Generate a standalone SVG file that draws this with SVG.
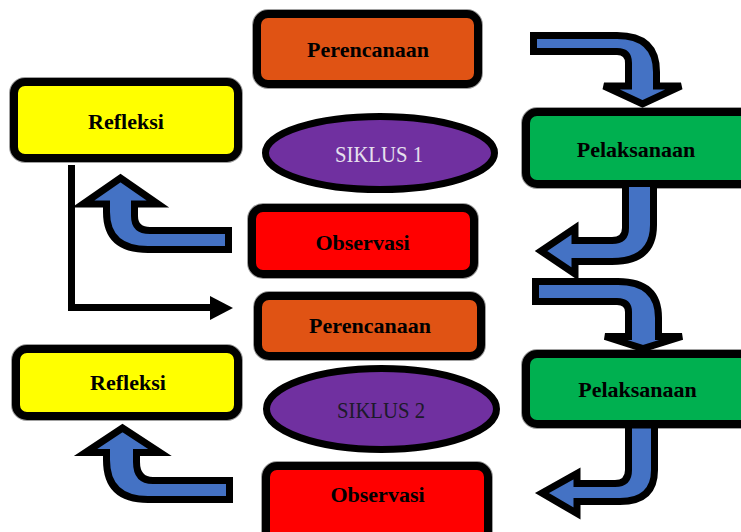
<svg xmlns="http://www.w3.org/2000/svg" width="741" height="532" viewBox="0 0 741 532">
<style>
.halo{fill:none;stroke:#a0a0a0;stroke-width:10}
.box{stroke:#000;stroke-width:8}
.ell{fill:#7030A0;stroke:#000;stroke-width:7}
.lbl{font-family:"Liberation Serif",serif;font-weight:bold;font-size:22px;fill:#000;text-anchor:middle}
.sik{font-family:"Liberation Serif",serif;font-size:23px;text-anchor:middle}
.arr{fill:#4472C4;stroke:#000;stroke-width:7;stroke-linejoin:miter}
.ln{fill:none;stroke:#000;stroke-width:7}
</style>
<rect width="741" height="532" fill="#fff"/>
<g id="perencanaan1">
<rect class="halo" x="257" y="14" width="221" height="70" rx="11"/>
<rect class="box" fill="#E05314" x="257" y="14" width="221" height="70" rx="11"/>
<text class="lbl" x="368" y="57">Perencanaan</text>
</g>
<g id="pelaksanaan1">
<rect class="halo" x="526" y="112" width="230" height="72" rx="11"/>
<rect class="box" fill="#00B050" x="526" y="112" width="230" height="72" rx="11"/>
<text class="lbl" x="636" y="157">Pelaksanaan</text>
</g>
<g id="refleksi1">
<rect class="halo" x="14" y="82" width="224" height="76" rx="11"/>
<rect class="box" fill="#FFFF00" x="14" y="82" width="224" height="76" rx="11"/>
<text class="lbl" x="126" y="129">Refleksi</text>
</g>
<g id="siklus1">
<ellipse class="ell" cx="380" cy="153" rx="114.5" ry="36.5"/>
<text class="sik" x="379" y="162" fill="#E6E0EE" textLength="88" lengthAdjust="spacingAndGlyphs">SIKLUS 1</text>
</g>
<g id="observasi1">
<rect class="halo" x="252" y="208" width="222" height="66" rx="11"/>
<rect class="box" fill="#FF0000" x="252" y="208" width="222" height="66" rx="11"/>
<text class="lbl" x="362.5" y="250">Observasi</text>
</g>
<g id="perencanaan2">
<rect class="halo" x="258" y="296" width="223" height="60" rx="11"/>
<rect class="box" fill="#E05314" x="258" y="296" width="223" height="60" rx="11"/>
<text class="lbl" x="370" y="333">Perencanaan</text>
</g>
<g id="pelaksanaan2">
<rect class="halo" x="526" y="354" width="230" height="70" rx="11"/>
<rect class="box" fill="#00B050" x="526" y="354" width="230" height="70" rx="11"/>
<text class="lbl" x="637.5" y="397">Pelaksanaan</text>
</g>
<g id="refleksi2">
<rect class="halo" x="16" y="349" width="222" height="67" rx="11"/>
<rect class="box" fill="#FFFF00" x="16" y="349" width="222" height="67" rx="11"/>
<text class="lbl" x="128" y="390">Refleksi</text>
</g>
<g id="siklus2">
<ellipse class="ell" cx="381.5" cy="409" rx="115" ry="40.5"/>
<text class="sik" x="381" y="418" fill="#1C1A2A" textLength="88" lengthAdjust="spacingAndGlyphs">SIKLUS 2</text>
</g>
<g id="observasi2">
<rect class="halo" x="266" y="466" width="222" height="76" rx="11"/>
<rect class="box" fill="#FF0000" x="266" y="466" width="222" height="76" rx="11"/>
<text class="lbl" x="377.5" y="502">Observasi</text>
</g>
<g id="connectors">
<path class="arr" d="M533.5 35.5 L617 35.5 Q656.5 35.5 656.5 72 L656.5 86 L681 86 L642.5 104 L604 86 L628.5 86 L628.5 63 Q628.5 51.5 617 51.5 L533.5 51.5 Z"/>
<path class="arr" d="M625.5 183.5 L653.5 183.5 L653.5 225 Q653.5 261.5 612 261.5 L575 261.5 L575 274 L541 251 L575 228 L575 240.5 L612 240.5 Q625.5 240.5 625.5 228 Z"/>
<path class="arr" d="M228.5 230.5 L150 230.5 Q134.5 230.5 134.5 216 L134.5 204 L158 204 L120.5 178 L83 204 L106.5 204 L106.5 212 Q106.5 249.5 148 249.5 L228.5 249.5 Z"/>
<path class="arr" d="M535.5 281.5 L618 281.5 Q658.5 281.5 658.5 318 L658.5 336.5 L682 336.5 L643 348.5 L605 336.5 L628.5 336.5 L628.5 312 Q628.5 301.5 617 301.5 L535.5 301.5 Z"/>
<path class="arr" d="M628.5 425 L654.5 425 L654.5 470 Q654.5 501.5 620 501.5 L577 501.5 L577 513.5 L542 493 L577 473.5 L577 483.5 L615 483.5 Q628.5 483.5 628.5 470 Z"/>
<path class="arr" d="M229.5 480.5 L153 480.5 Q136.5 480.5 136.5 462 L136.5 452.5 L160 452.5 L122.5 428 L85.5 452.5 L106.5 452.5 L106.5 460 Q106.5 499.5 148 499.5 L229.5 499.5 Z"/>
<polyline class="ln" points="71.5,165 71.5,307.5 212,307.5"/>
<polygon points="210,296 233,308 210,320" fill="#000"/>
</g>
</svg>
